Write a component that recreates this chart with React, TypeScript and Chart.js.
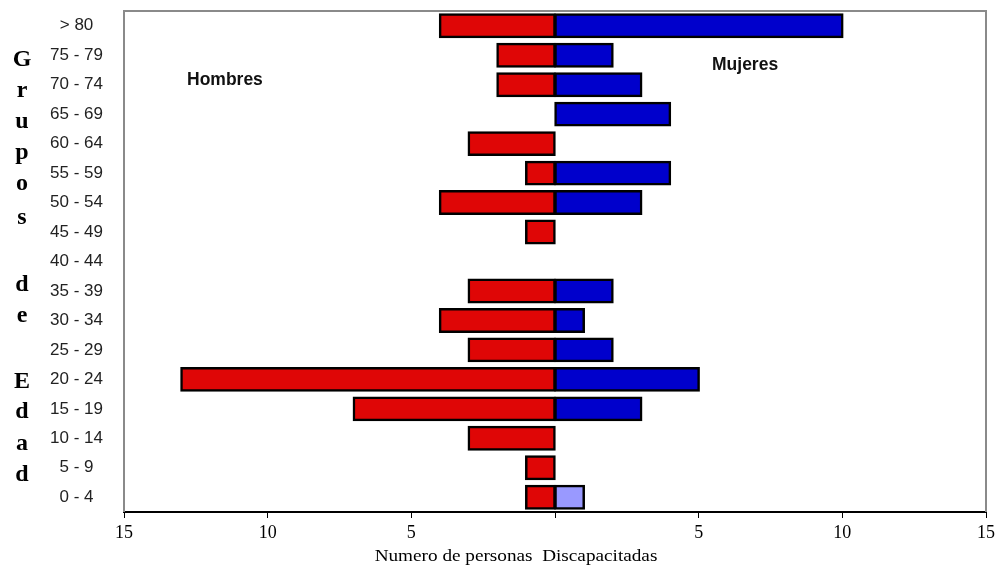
import React, { useEffect, useRef } from "react";
import { Chart, registerables } from "chart.js";

Chart.register(...registerables);

const categories = ["> 80", "75 - 79", "70 - 74", "65 - 69", "60 - 64", "55 - 59", "50 - 54", "45 - 49", "40 - 44", "35 - 39", "30 - 34", "25 - 29", "20 - 24", "15 - 19", "10 - 14", "5 - 9", "0 - 4"];
const hombres = [4, 2, 2, 0, 3, 1, 4, 1, 0, 3, 4, 3, 13, 7, 3, 1, 1];
const mujeres = [10, 2, 3, 4, 0, 4, 3, 0, 0, 2, 1, 2, 5, 3, 0, 0, 1];
const xTicks = [-15, -10, -5, 0, 5, 10, 15];
const xTitle = "Numero de personas  Discapacitadas";
const sideLetters = ["G", "r", "u", "p", "o", "s", "d", "e", "E", "d", "a", "d"];
const letterBaselines = [66, 97, 128, 159, 190, 224, 291, 322, 388, 418, 450, 481];

const RED = "#df0606";
const BLUE = "#0000cc";
const LIGHT = "#9999ff";

export default function App() {
  const ref = useRef<HTMLCanvasElement | null>(null);
  useEffect(() => {
    document.body.style.margin = "0";
    const canvas = ref.current;
    if (!canvas) return;
    const overlay = {
      id: "overlay",
      afterDraw(chart: any) {
        const ctx = chart.ctx;
        const a = chart.chartArea;
        ctx.save();
        // frame
        ctx.lineWidth = 2;
        ctx.strokeStyle = "#8a8a8a";
        ctx.beginPath();
        ctx.moveTo(a.left, a.bottom);
        ctx.lineTo(a.left, a.top);
        ctx.lineTo(a.right, a.top);
        ctx.lineTo(a.right, a.bottom);
        ctx.stroke();
        // labels
        ctx.fillStyle = "#111";
        ctx.font = "bold 17.5px 'Liberation Sans', Arial, sans-serif";
        ctx.textAlign = "left";
        ctx.textBaseline = "middle";
        ctx.fillText("Hombres", 187, 80);
        ctx.fillText("Mujeres", 712, 65);
        // side title letters
        ctx.fillStyle = "#000";
        ctx.font = "bold 24px 'Liberation Serif', 'Times New Roman', serif";
        ctx.textAlign = "center";
        ctx.textBaseline = "alphabetic";
        sideLetters.forEach((l, i) => ctx.fillText(l, 22, letterBaselines[i]));
        // x axis title (horizontally stretched like the original)
        ctx.font = "17px 'Liberation Serif', 'Times New Roman', serif";
        ctx.textBaseline = "middle";
        ctx.textAlign = "center";
        ctx.translate(516, 557);
        ctx.scale(1.13, 1);
        ctx.fillText(xTitle, 0, 0);
        ctx.restore();
      },
    };
    const chart = new Chart(canvas, {
      type: "bar",
      data: {
        labels: categories,
        datasets: [
          {
            label: "Hombres",
            data: hombres.map((v) => -v),
            backgroundColor: RED,
            borderColor: "#000",
            borderWidth: 2.5,
            borderSkipped: false,
            inflateAmount: 1.25,
            barPercentage: 0.76,
            categoryPercentage: 1,
          },
          {
            label: "Mujeres",
            data: mujeres,
            backgroundColor: mujeres.map((_, i) => (categories[i] === "0 - 4" ? LIGHT : BLUE)),
            borderColor: "#000",
            borderWidth: 2.5,
            borderSkipped: false,
            inflateAmount: 1.25,
            barPercentage: 0.76,
            categoryPercentage: 1,
          },
        ],
      },
      options: {
        indexAxis: "y",
        responsive: false,
        animation: false,
        layout: { padding: { top: 11, right: 11, left: 0, bottom: 0 } },
        plugins: { legend: { display: false }, tooltip: { enabled: false } },
        scales: {
          y: {
            stacked: true,
            grid: { display: false },
            border: { display: false },
            ticks: {
              crossAlign: "center",
              padding: 13,
              color: "#222",
              font: { family: "'Liberation Sans', Arial, sans-serif", size: 17 },
            },
            afterFit(scale: any) {
              scale.width = 124;
              scale.paddingTop = 0;
              scale.paddingBottom = 0;
            },
          },
          x: {
            stacked: true,
            min: -15,
            max: 15,
            afterBuildTicks(scale: any) {
              scale.ticks = xTicks.map((v) => ({ value: v }));
            },
            grid: { drawOnChartArea: false, drawTicks: true, tickLength: 6, color: "#000", lineWidth: 1 },
            border: { display: true, color: "#000", width: 2 },
            ticks: {
              padding: 4,
              color: "#000",
              maxRotation: 0,
              font: { family: "'Liberation Serif', 'Times New Roman', serif", size: 18 },
              callback: (v: any) => (Number(v) === 0 ? "" : String(Math.abs(Number(v)))),
            },
            title: { display: false },
            afterFit(scale: any) {
              scale.height = 55;
              scale.paddingLeft = 0;
              scale.paddingRight = 0;
            },
          },
        },
      },
      plugins: [overlay],
    } as any);
    return () => chart.destroy();
  }, []);
  return <canvas ref={ref} width={997} height={567} style={{ display: "block" }} />;
}
